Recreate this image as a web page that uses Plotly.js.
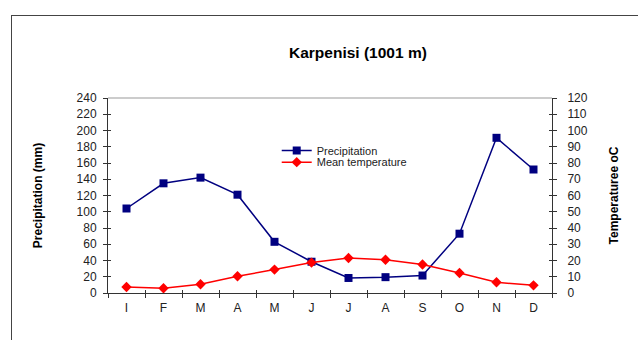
<!DOCTYPE html>
<html>
<head>
<meta charset="utf-8">
<script src="https://cdn.plot.ly/plotly-3.0.1.min.js"></script>
<style>
  html, body { margin: 0; padding: 0; background: #fff; }
  #wrap { position: relative; width: 638px; height: 340px; overflow: hidden; }
  #frame { position: absolute; left: 11px; top: 15px; width: 700px; height: 400px;
           border-left: 1px solid #444; border-top: 1px solid #444; pointer-events: none; }
  #chart { position: absolute; left: 0; top: 0; width: 638px; height: 340px; }
</style>
</head>
<body>
<div id="wrap">
  <div id="chart"></div>
  <div id="frame"></div>
</div>
<script>
const months = ['I','F','M','A','M','J','J','A','S','O','N','D'];
const precipitation = [104, 135, 142, 121, 63, 38.5, 18.5, 19.5, 21.5, 73, 191, 152];
const temperature = [3.7, 2.9, 5.4, 10.3, 14.4, 18.7, 21.5, 20.5, 17.5, 12.3, 6.6, 4.7];

const idx = months.map((m, i) => i);
const boundaries = months.map((m, i) => i - 0.5).concat([months.length - 0.5]);

const FAM = 'Liberation Sans, Arial, sans-serif';
const font = {family: FAM, size: 12, color: '#222'};

const traces = [
  {
    x: idx, y: precipitation, name: 'Precipitation', type: 'scatter', mode: 'lines+markers',
    line: {color: '#000080', width: 1.5},
    marker: {symbol: 'square', size: 8, color: '#000080'},
    xaxis: 'x', yaxis: 'y', legend: 'legend'
  },
  {
    x: idx, y: temperature, name: 'Mean temperature', type: 'scatter', mode: 'lines+markers',
    line: {color: '#ff0000', width: 1.5},
    marker: {symbol: 'diamond', size: 8, color: '#ff0000'},
    xaxis: 'x', yaxis: 'y2', legend: 'legend2'
  }
];

const legFont = {family: FAM, size: 11, color: '#222'};
const xr = [-0.5, months.length - 0.5];
const layout = {
  width: 638, height: 340,
  margin: {l: 108, r: 86, t: 98, b: 47, pad: 0},
  paper_bgcolor: 'rgba(0,0,0,0)', plot_bgcolor: 'rgba(0,0,0,0)',
  font: font,
  showlegend: true,
  title: {text: '<b>Karpenisi (1001 m)</b>', font: {family: FAM, size: 15.5, color: '#000'},
          x: 0.561, xanchor: 'center', y: 0.845, yanchor: 'middle'},
  legend: {x: 0.38, y: 0.731, xanchor: 'left', yanchor: 'middle', bgcolor: 'rgba(0,0,0,0)',
           font: legFont, itemwidth: 30},
  legend2: {x: 0.38, y: 0.671, xanchor: 'left', yanchor: 'middle', bgcolor: 'rgba(0,0,0,0)',
           font: legFont, itemwidth: 30},
  xaxis: {
    range: xr, tickmode: 'array', tickvals: idx, ticktext: months, ticks: '',
    showline: true, linecolor: '#333', linewidth: 1, showgrid: false, zeroline: false,
    ticklabelstandoff: 4, tickfont: font, fixedrange: true
  },
  xaxis2: {
    overlaying: 'x', range: xr, tickmode: 'array', tickvals: boundaries, ticks: 'outside',
    ticklen: 4, tickcolor: '#333', showticklabels: false, showline: false, showgrid: false, zeroline: false
  },
  xaxis3: {
    overlaying: 'x', range: xr, tickmode: 'array', tickvals: boundaries, ticks: 'inside',
    ticklen: 3, tickcolor: '#333', showticklabels: false, showline: false, showgrid: false, zeroline: false
  },
  yaxis: {
    range: [0, 240], dtick: 20, tick0: 0, ticks: 'outside', ticklen: 4, tickcolor: '#333',
    showline: true, linecolor: '#333', showgrid: false, zeroline: false, tickfont: font,
    ticklabelstandoff: 4,
    title: {text: '<b>Precipitation (mm)</b>', font: {family: FAM, size: 12, color: '#000'}, standoff: 31}
  },
  yaxis3: {
    overlaying: 'y', range: [0, 240], dtick: 20, tick0: 0, ticks: 'inside', ticklen: 3, tickcolor: '#333',
    showticklabels: false, showline: false, showgrid: false, zeroline: false
  },
  yaxis2: {
    overlaying: 'y', side: 'right', range: [0, 120], dtick: 10, tick0: 0, ticks: 'outside', ticklen: 4,
    tickcolor: '#333', showline: true, linecolor: '#333', showgrid: false, zeroline: false, tickfont: font,
    ticklabelstandoff: 8,
    title: {text: '<b>Temperaturee oC</b>', font: {family: FAM, size: 12, color: '#000'}, standoff: 22}
  },
  yaxis4: {
    overlaying: 'y', side: 'right', range: [0, 120], dtick: 10, tick0: 0, ticks: 'inside', ticklen: 3,
    tickcolor: '#333', showticklabels: false, showline: false, showgrid: false, zeroline: false
  },
  shapes: [
    {type: 'line', xref: 'paper', yref: 'paper', x0: 0, x1: 1, y0: 1, y1: 1, line: {color: '#999', width: 1}}
  ]
};

// invisible helper traces to activate the tick-only overlay axes
traces.push({x: [0], y: [null], xaxis: 'x2', yaxis: 'y3', showlegend: false, hoverinfo: 'skip', mode: 'markers'});
traces.push({x: [0], y: [null], xaxis: 'x3', yaxis: 'y4', showlegend: false, hoverinfo: 'skip', mode: 'markers'});

Plotly.newPlot('chart', traces, layout, {displayModeBar: false, staticPlot: true});
</script>
</body>
</html>
